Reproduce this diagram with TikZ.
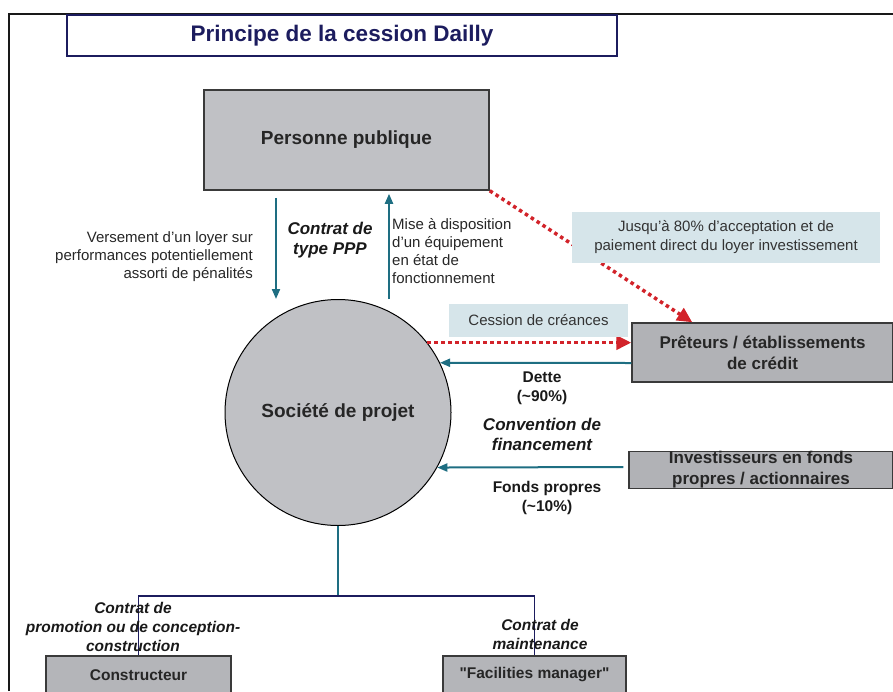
\documentclass[tikz,border=0pt]{standalone}
\usepackage{fontspec}
\setmainfont{Liberation Sans}
\newfontfamily\plainquote{Liberation Sans}[Ligatures=TeXOff]
\usepackage{xcolor}
\usetikzlibrary{arrows.meta,positioning,shapes}
\definecolor{titleblue}{HTML}{1C1C5E}
\definecolor{flowteal}{HTML}{1E6E82}
\definecolor{dotred}{HTML}{D2232A}
\definecolor{fillgray}{HTML}{C0C1C5}
\definecolor{fillgraydark}{HTML}{B1B2B6}
\definecolor{memoblue}{HTML}{D6E5EA}
\definecolor{boxline}{HTML}{3A3A3A}
\tikzset{%
	block/.style    = {draw=boxline, line width=1.5pt, fill=fillgray, rectangle, align=center, text=black!85,
	                   font=\fontsize{19}{22}\selectfont\bfseries},
	bank/.style     = {block, fill=fillgraydark, font=\fontsize{17}{21}\selectfont\bfseries}, % Lenders
	firm/.style     = {block, fill=fillgraydark!80!fillgray, font=\fontsize{15.5}{19}\selectfont\bfseries}, % Contractors
	remark/.style   = {text=black!85, font=\fontsize{15}{18}\selectfont, inner sep=0pt},
	memo/.style     = {fill=memoblue, rectangle, align=center, text=black!80, font=\fontsize{15}{19}\selectfont},
	contract/.style = {align=center, inner sep=0pt, text=black!90, font=\fontsize{17}{20.5}\selectfont\bfseries\itshape},
	amount/.style   = {align=center, inner sep=0pt, text=black!90, font=\fontsize{15.5}{19}\selectfont\bfseries},
	flow/.style     = {draw=flowteal, line width=2pt, -{Triangle[length=10pt,width=8pt]}},
	cession/.style  = {draw=dotred, line width=3.5pt, dash pattern=on 3.5pt off 3.5pt, -{Triangle[length=15pt,width=14pt]}},
}

\begin{document}
\begin{tikzpicture}[x=1pt,y=-1pt]
	\useasboundingbox (0,0) rectangle (893,691);
	\clip (0,0) rectangle (893,691);
	\draw[line width=2.5pt, black!90] (9,691) |- (893,14);
	\node[draw=titleblue, line width=1.5pt, minimum width=550, minimum height=41, text=titleblue,
	      font=\fontsize{22.5}{26}\selectfont\bfseries] (title) at (342,35.5) {Principe de la cession Dailly};
	
	\node[block, minimum width=285, minimum height=100] (pp) at (346.5,140) {Personne publique};
	\node[block, circle, line width=1pt, draw=black, minimum size=226, inner sep=0pt] (soc) at (338,412.5) {Société de projet};
	\node[bank, minimum width=261, minimum height=59] (pret) at (762.5,352.5) {Prêteurs / établissements\\de crédit};
	\node[bank, minimum width=264, minimum height=36, inner sep=0pt] (inv) at (761,470) {Investisseurs en fonds\\propres / actionnaires};
	\node[firm, minimum width=185, minimum height=38] (cons) at (138.5,675) {Constructeur};
	\node[firm, minimum width=183, minimum height=38] (fm) at (534.5,675) {\plainquote\bfseries "Facilities manager"};
	
	% contrat PPP
	\draw[flow] ([xshift=-70.5pt,yshift=-7pt]pp.south) -- ([xshift=-62pt]soc.north);
	\draw[flow] ([xshift=51pt]soc.north) -- ([xshift=42.5pt,yshift=-3pt]pp.south);
	\node[remark, anchor=east, align=right] (loyer) at (253,257) {Versement d'un loyer sur\\performances potentiellement\\assorti de pénalités};
	\node[contract] (ppp) at (330,240) {Contrat de\\type PPP};
	\node[remark, anchor=west, align=left] (mise) at (392,251) {Mise à disposition\\d'un équipement\\en état de\\fonctionnement};
	
	% cession Dailly
	\draw[cession] (pp.south east) -- ([xshift=61pt]pret.north west);
	\draw[cession] (soc.38) -- (soc.38 -| pret.west);
	\node[memo, minimum width=308, minimum height=51] (accept) at (726,237.5) {Jusqu'à 80\% d'acceptation et de\\paiement direct du loyer investissement};
	\node[memo, minimum width=179, minimum height=33] (cess) at (538.5,320.5) {Cession de créances};
	
	% financement
	\draw[flow] ([yshift=-10.5pt]pret.west) -- (soc.26);
	\draw[flow] ([xshift=-5pt,yshift=3pt]inv.west) -- (soc.-29);
	\node[amount] (dette) at (542,388.5) {Dette\\(\textasciitilde90\%)};
	\node[contract] (conv) at (542,434.5) {Convention de\\financement};
	\node[amount] (fonds) at (547,498) {Fonds propres\\(\textasciitilde10\%)};
	
	% sous-traitance
	\coordinate (fork) at (338,596);
	\draw[flowteal, line width=2pt] (soc.south) -- (fork);
	\draw[titleblue, line width=1.2pt] (cons.north) -- (cons.north |- fork) -- (fm.north |- fork) -- (fm.north);
	\node[contract, font=\fontsize{15.5}{19}\selectfont\bfseries\itshape] (ccons) at (133,627) {Contrat de\\promotion ou de conception-\\construction};
	\node[contract, font=\fontsize{15.5}{19}\selectfont\bfseries\itshape] (cmaint) at (540,634) {Contrat de\\maintenance};
	
\end{tikzpicture}
\end{document}
